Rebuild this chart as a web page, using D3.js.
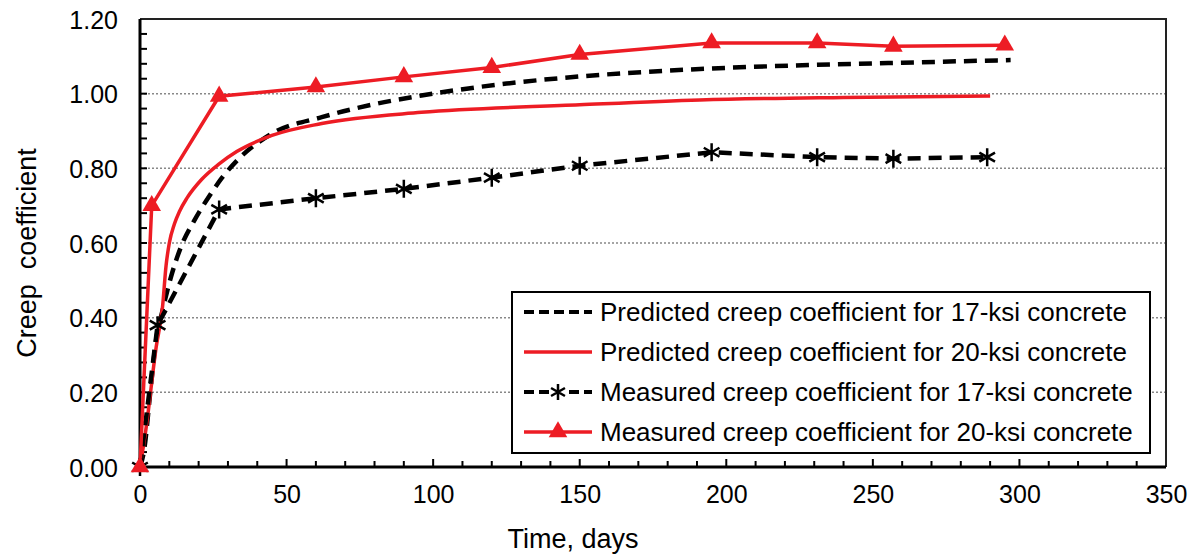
<!DOCTYPE html>
<html>
<head>
<meta charset="utf-8">
<script src="https://cdn.jsdelivr.net/npm/d3@7"></script>
<style>
  body { margin: 0; background: #fff; }
  text { font-family: "Liberation Sans", Arial, sans-serif; fill: #000; }
</style>
</head>
<body>
<div class="chart-section"></div>
<script>
const marginLeft = 140,
  marginTop = 19,
  marginBottom = 89,
  marginRight = 31;
const width = 1197,
  height = 556;
const red = "#ed1c24";

// predicted curves
const pred17Days = [0, 1.5, 3.5, 5.5, 7.7, 10.6, 14, 18.5, 24, 28, 33, 45, 62, 80, 96, 125, 150, 191, 230, 260, 297];
const pred17Vals = [0, 0.05, 0.2, 0.34, 0.42, 0.51, 0.59, 0.66, 0.73, 0.775, 0.82, 0.893, 0.937, 0.972, 0.995, 1.027, 1.046, 1.066, 1.077, 1.083, 1.09];
const pred20Days = [0, 2, 5.5, 7.7, 8.9, 10, 11.7, 13.5, 16, 21, 27, 33, 45, 62, 96, 150, 191, 240, 290];
const pred20Vals = [0, 0.1, 0.32, 0.43, 0.54, 0.6, 0.65, 0.685, 0.72, 0.77, 0.812, 0.845, 0.888, 0.92, 0.95, 0.97, 0.983, 0.99, 0.994];

// measured
const meas17Days = [0, 6, 27, 60, 90, 120, 150, 195, 231, 257, 289];
const meas17Vals = [0, 0.38, 0.69, 0.72, 0.745, 0.775, 0.807, 0.843, 0.83, 0.826, 0.83];
const meas20Days = [0, 4, 27, 60, 90, 120, 150, 195, 231, 257, 295];
const meas20Vals = [0, 0.7, 0.993, 1.018, 1.045, 1.07, 1.105, 1.136, 1.136, 1.127, 1.13];

const legendLabels = [
  "Predicted creep coefficient for 17-ksi concrete",
  "Predicted creep coefficient for 20-ksi concrete",
  "Measured creep coefficient for 17-ksi concrete",
  "Measured creep coefficient for 20-ksi concrete",
];

const zip = (xs, ys) => xs.map((x, i) => ({ x, y: ys[i] }));

const svg = d3.select(".chart-section").append("svg")
  .attr("width", width).attr("height", height);

const xScale = d3.scaleLinear().domain([0, 350]).range([marginLeft, width - marginRight]);
const yScale = d3.scaleLinear().domain([0, 1.2]).range([height - marginBottom, marginTop]);

// gridlines
svg.append("g").selectAll("line")
  .data([0.2, 0.4, 0.6, 0.8, 1.0])
  .enter().append("line")
  .attr("x1", marginLeft).attr("x2", width - marginRight)
  .attr("y1", (d) => yScale(d)).attr("y2", (d) => yScale(d))
  .attr("stroke", "#888").attr("stroke-width", 1.5).attr("stroke-dasharray", "2,2");

// frame top/right
svg.append("path")
  .attr("d", `M${marginLeft},${marginTop}H${width - marginRight}V${height - marginBottom}`)
  .attr("fill", "none").attr("stroke", "#222").attr("stroke-width", 2);

// axes
const xAxis = d3.axisBottom(xScale).tickValues(d3.range(0, 351, 50)).tickSize(0).tickPadding(18).tickFormat(d3.format("d"));
const yAxis = d3.axisLeft(yScale).tickValues(d3.range(0, 1.21, 0.2)).tickSize(0).tickPadding(22).tickFormat(d3.format(".2f"));

const gx = svg.append("g").attr("transform", `translate(0,${height - marginBottom})`).call(xAxis);
const gy = svg.append("g").attr("transform", `translate(${marginLeft},0)`).call(yAxis);
[gx, gy].forEach((g) => {
  g.select(".domain").remove();
  g.selectAll("text").attr("font-size", 25).attr("font-family", "Liberation Sans, Arial, sans-serif");
});
gy.selectAll("text").attr("dy", "0.36em");

// inward ticks
svg.append("g").selectAll("line")
  .data(d3.range(10, 350, 10))
  .enter().append("line")
  .attr("x1", (d) => xScale(d)).attr("x2", (d) => xScale(d))
  .attr("y1", height - marginBottom).attr("y2", (d) => height - marginBottom - (d % 50 === 0 ? 8 : 6))
  .attr("stroke", "#000").attr("stroke-width", 2);
svg.append("g").selectAll("line")
  .data(d3.range(1, 30))
  .enter().append("line")
  .attr("x1", marginLeft).attr("x2", marginLeft + 7)
  .attr("y1", (d) => yScale(d * 0.04)).attr("y2", (d) => yScale(d * 0.04))
  .attr("stroke", "#000").attr("stroke-width", 2);

svg.append("line")
  .attr("x1", marginLeft).attr("x2", width - marginRight)
  .attr("y1", height - marginBottom).attr("y2", height - marginBottom)
  .attr("stroke", "#000").attr("stroke-width", 3);
svg.append("line")
  .attr("x1", marginLeft).attr("x2", marginLeft)
  .attr("y1", marginTop).attr("y2", height - marginBottom)
  .attr("stroke", "#000").attr("stroke-width", 3);

// axis titles
svg.append("text")
  .text("Time, days")
  .attr("x", 573).attr("y", 548)
  .attr("text-anchor", "middle").attr("font-size", 27);
svg.append("text")
  .text("Creep  coefficient")
  .attr("transform", "translate(36,253) rotate(-90)")
  .attr("text-anchor", "middle").attr("font-size", 27)
  .style("white-space", "pre");

// series
const line = (curve) => d3.line().x((d) => xScale(d.x)).y((d) => yScale(d.y)).curve(curve);

svg.append("path")
  .datum(zip(pred17Days, pred17Vals))
  .attr("d", line(d3.curveMonotoneX))
  .attr("fill", "none").attr("stroke", "#000").attr("stroke-width", 4.5).attr("stroke-dasharray", "13,8");

svg.append("path")
  .datum(zip(pred20Days, pred20Vals))
  .attr("d", line(d3.curveMonotoneX))
  .attr("fill", "none").attr("stroke", red).attr("stroke-width", 3.5);

svg.append("path")
  .datum(zip(meas17Days, meas17Vals))
  .attr("d", line(d3.curveLinear))
  .attr("fill", "none").attr("stroke", "#000").attr("stroke-width", 4.5).attr("stroke-dasharray", "13,8");

svg.append("path")
  .datum(zip(meas20Days, meas20Vals))
  .attr("d", line(d3.curveLinear))
  .attr("fill", "none").attr("stroke", red).attr("stroke-width", 3.5);

const asterisk = (g, s) => {
  g.append("path")
    .attr("d", `M0,${-s}V${s}M${-s * 0.87},${-s * 0.5}L${s * 0.87},${s * 0.5}M${-s * 0.87},${s * 0.5}L${s * 0.87},${-s * 0.5}`)
    .attr("stroke", "#000").attr("stroke-width", 2.5).attr("fill", "none");
};
const triangle = d3.symbol().type(d3.symbolTriangle).size(150);

svg.append("g").selectAll("g")
  .data(zip(meas17Days, meas17Vals))
  .enter().append("g")
  .attr("transform", (d) => `translate(${xScale(d.x)},${yScale(d.y)})`)
  .each(function () { asterisk(d3.select(this), 9); });

svg.append("g").selectAll("path")
  .data(zip(meas20Days, meas20Vals))
  .enter().append("path")
  .attr("d", triangle)
  .attr("transform", (d) => `translate(${xScale(d.x)},${yScale(d.y)})`)
  .attr("fill", red);

// legend
const legend = svg.append("g").attr("transform", "translate(512,292)");
legend.append("rect")
  .attr("width", 638).attr("height", 161)
  .attr("fill", "#fff").attr("stroke", "#000").attr("stroke-width", 2);

const rows = legend.selectAll("g.row")
  .data(legendLabels)
  .enter().append("g")
  .attr("class", "row")
  .attr("transform", (d, i) => `translate(0,${20 + i * 40})`);

rows.append("line")
  .attr("x1", 12).attr("x2", 80).attr("y1", 0).attr("y2", 0)
  .attr("stroke", (d, i) => (i % 2 === 0 ? "#000" : red))
  .attr("stroke-width", (d, i) => (i % 2 === 0 ? 4 : 3.5))
  .attr("stroke-dasharray", (d, i) => (i % 2 === 0 ? "10,5" : null));

rows.filter((d, i) => i === 2)
  .append("g").attr("transform", "translate(46,0)")
  .each(function () {
    d3.select(this).append("rect").attr("x", -8).attr("y", -8).attr("width", 16).attr("height", 16).attr("fill", "#fff");
    asterisk(d3.select(this), 8);
  });
rows.filter((d, i) => i === 3)
  .append("path").attr("d", triangle).attr("transform", "translate(46,0)").attr("fill", red);

rows.append("text")
  .text((d) => d)
  .attr("x", 88).attr("y", 0).attr("dy", "0.36em")
  .attr("font-size", 26);
</script>
</body>
</html>
